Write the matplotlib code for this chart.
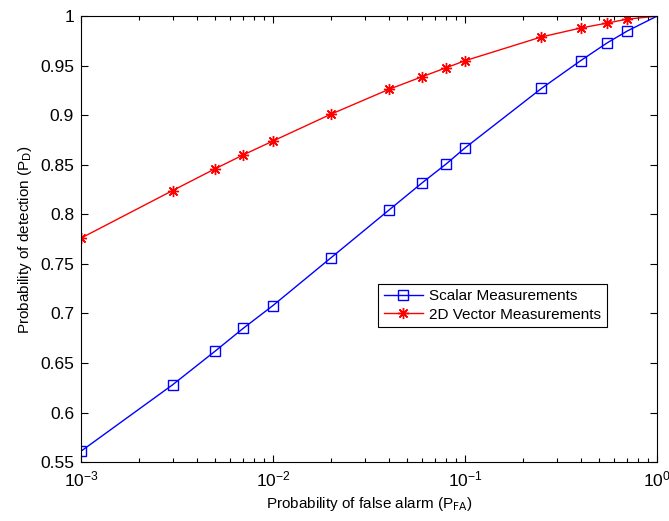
import numpy as np
import matplotlib
matplotlib.use('Agg')
import matplotlib.pyplot as plt
from matplotlib.ticker import LogLocator, MultipleLocator, FixedLocator

# false alarm probabilities (x axis, log scale)
p_fa = [0.001, 0.003, 0.005, 0.007, 0.01, 0.02, 0.04, 0.06, 0.08, 0.1,
        0.25, 0.4, 0.55, 0.7, 1.0]
# detection probabilities
pd_scalar = [0.561, 0.628, 0.662, 0.685, 0.708, 0.756, 0.804, 0.832, 0.851,
             0.867, 0.927, 0.955, 0.973, 0.985, 1.0]
pd_vector = [0.776, 0.824, 0.846, 0.860, 0.874, 0.901, 0.926, 0.939, 0.948,
             0.955, 0.979, 0.988, 0.993, 0.997, 1.0]

series_names = ['Scalar Measurements', '2D Vector Measurements']


def main():
    plt.rcParams['font.family'] = ['Liberation Sans', 'DejaVu Sans']
    fig = plt.figure(figsize=(6.69, 5.21), dpi=100, facecolor='w')
    ax = fig.add_axes([0.121, 0.113, 0.861, 0.856])

    marks = list(range(len(p_fa) - 1))  # no marker on the corner point
    ax.plot(p_fa, pd_scalar, color='b', lw=1.0, marker='s', ms=6.5,
            mfc='none', mec='b', mew=1.0, markevery=marks,
            label=series_names[0])
    ax.plot(p_fa, pd_vector, color='r', lw=1.0, marker=(8, 2, 0), ms=8,
            mec='r', mew=1.0, markevery=marks, label=series_names[1])

    ax.set_xscale('log')
    ax.set_xlim(1e-3, 1)
    ax.set_ylim(0.55, 1)
    ax.xaxis.set_major_locator(FixedLocator([1e-3, 1e-2, 1e-1, 1]))
    ax.xaxis.set_minor_locator(LogLocator(base=10, subs=np.arange(2, 10)))
    ax.yaxis.set_major_locator(MultipleLocator(0.05))
    # matlab style labels: 0.6 instead of 0.60, 1 instead of 1.00
    ax.yaxis.set_major_formatter(
        plt.FuncFormatter(lambda v, p: ('%.2f' % v).rstrip('0').rstrip('.')))

    ax.tick_params(which='both', direction='in', top=True, right=True)
    ax.tick_params(which='major', length=5, width=0.8, labelsize=12.5, pad=5)
    ax.tick_params(which='minor', length=3, width=0.8)
    for s in ax.spines.values():
        s.set_linewidth(0.8)

    ax.set_xlabel('Probability of false alarm (P$_{\\mathrm{FA}}$)', fontsize=11)
    ax.set_ylabel('Probability of detection (P$_{\\mathrm{D}}$)', fontsize=11)

    leg = ax.legend(loc='lower left', bbox_to_anchor=(0.516, 0.303),
                    borderaxespad=0, fancybox=False, framealpha=1,
                    edgecolor='k', fontsize=11, handlelength=2.6,
                    handletextpad=0.4, borderpad=0.35, labelspacing=0.3)
    leg.get_frame().set_linewidth(0.8)

    plt.savefig('out.png', dpi=100)


if __name__ == '__main__':
    main()
